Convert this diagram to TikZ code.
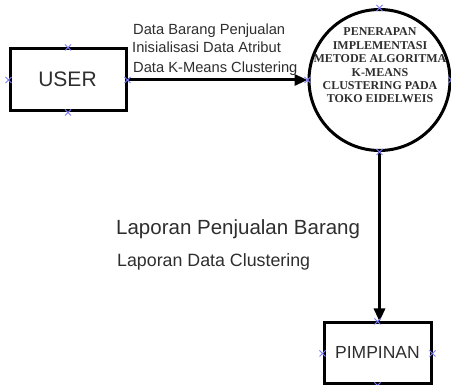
\documentclass[tikz,border=0pt]{standalone}
\usepackage{fontspec}
\setmainfont{Liberation Sans}
\newfontfamily\serifbold{Liberation Serif}
\usetikzlibrary{arrows.meta,shapes.misc,shapes.geometric}
\definecolor{txt}{HTML}{2E2E2E}
\definecolor{cpt}{RGB}{125,125,255}
\tikzset{
  entity/.style={draw=black, line width=3pt, inner sep=0pt},
  flow/.style={line width=3pt, -{Triangle[length=13pt,width=11pt]}},
  lbl/.style={text=txt, inner sep=0pt, anchor=base west},
  cpoint/.style={draw=cpt, cross out, line width=1pt, minimum size=5pt, inner sep=0pt}
}
\begin{document}
\begin{tikzpicture}[x=1pt,y=-1pt]
\useasboundingbox (0,0) rectangle (451,385);
% entities
\node[entity, minimum width=116pt, minimum height=62pt] (user) at (68,80) {};
\node[text=txt, inner sep=0pt, anchor=base, font=\fontsize{21}{21}\selectfont] (usert) at (67.5,86.7) {USER};
\node[entity, minimum width=107pt, minimum height=61pt] (pim) at (377.5,353.5) {};
\node[text=txt, inner sep=0pt, anchor=base, font=\fontsize{17.5}{17.5}\selectfont] (pimt) at (377.5,359) {PIMPINAN};
% process
\node[entity, circle, minimum size=141pt] (proc) at (379.5,80) {};
\node[text=txt, inner sep=0pt, align=center, font=\serifbold\bfseries\fontsize{12}{13.4}\selectfont] (proct) at (380,65.5)
  {PENERAPAN\\IMPLEMENTASI\\METODE ALGORITMA\\K-MEANS\\CLUSTERING PADA\\TOKO EIDELWEIS};
% flows
\draw[flow] (user.east) -- (proc.west);
\draw[flow] (proc.south) -- (proc.south |- pim.north);
% labels
\node[lbl, font=\fontsize{14.7}{14.7}\selectfont] (l1) at (133,35) {Data Barang Penjualan};
\node[lbl, font=\fontsize{14.7}{14.7}\selectfont] (l2) at (132,52.5) {Inisialisasi Data Atribut};
\node[lbl, font=\fontsize{14.7}{14.7}\selectfont] (l3) at (133,73) {Data K-Means Clustering};
\node[lbl, font=\fontsize{20.5}{20.5}\selectfont] (l4) at (116,235) {Laporan Penjualan Barang};
\node[lbl, font=\fontsize{17.8}{17.8}\selectfont] (l5) at (117,266.7) {Laporan Data Clustering};
% connection points
\foreach \n in {user,pim,proc}{
  \foreach \a in {north,south,east,west}{
    \node[cpoint] at (\n.\a) {};
  }
}
\end{tikzpicture}
\end{document}
